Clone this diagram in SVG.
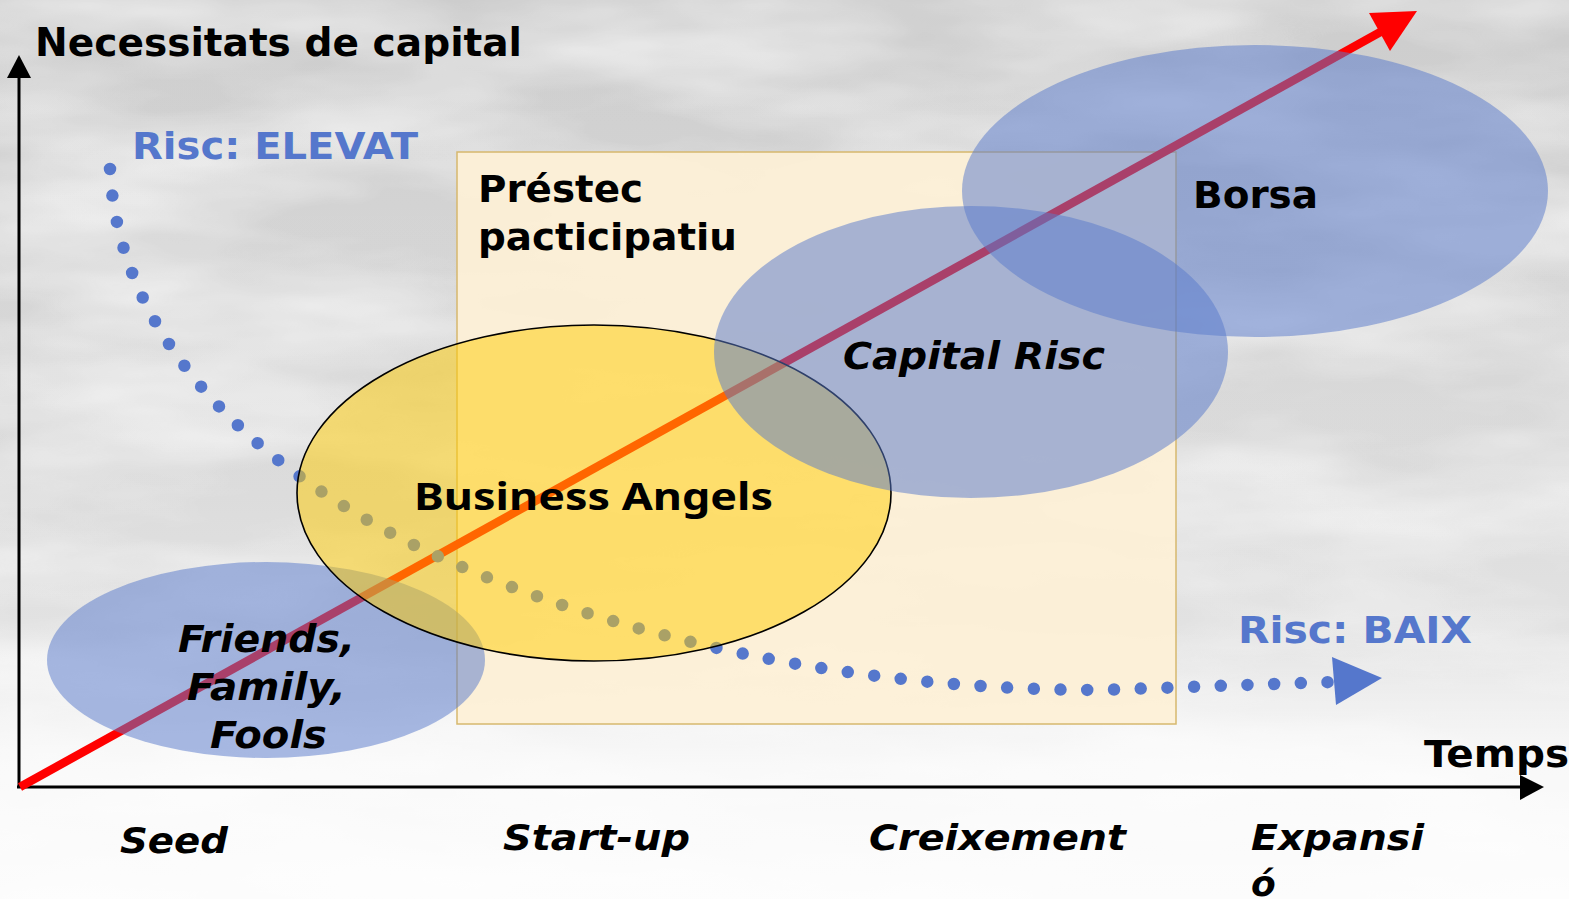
<svg xmlns="http://www.w3.org/2000/svg" width="1569" height="899" viewBox="0 0 1569 899">
  <defs>
    <linearGradient id="sky" x1="0" y1="0" x2="0" y2="1">
      <stop offset="0" stop-color="#cdcdcd"/>
      <stop offset="0.55" stop-color="#d9d9d9"/>
      <stop offset="1" stop-color="#ececec"/>
    </linearGradient>
    <linearGradient id="fade" x1="0" y1="0" x2="0" y2="1">
      <stop offset="0" stop-color="#ffffff" stop-opacity="0"/>
      <stop offset="0.7" stop-color="#ffffff" stop-opacity="0.1"/>
      <stop offset="0.85" stop-color="#ffffff" stop-opacity="0.75"/>
      <stop offset="1" stop-color="#ffffff" stop-opacity="0.85"/>
    </linearGradient>
    <filter id="clouds" x="0" y="0" width="100%" height="100%" filterUnits="userSpaceOnUse">
      <feTurbulence type="fractalNoise" baseFrequency="0.003 0.011" numOctaves="4" seed="7"/>
      <feColorMatrix type="matrix" values="0 0 0 0 1  0 0 0 0 1  0 0 0 0 1  1.6 0 0 0 -0.55"/>
    </filter>
    <style>
      .lbl { font-family: "DejaVu Sans", Verdana, sans-serif; font-weight: bold; fill: #000; }
      .it { font-style: italic; }
      .risc { fill: #5577cc; }
      .blue { fill: #5b7bcc; fill-opacity: 0.52; }
      .axis { stroke: #000; stroke-width: 3; fill: none; }
    </style>
  </defs>

  <!-- background sky -->
  <rect x="0" y="0" width="1569" height="899" fill="url(#sky)"/>
  <rect x="0" y="0" width="1569" height="899" filter="url(#clouds)" opacity="0.8"/>
  <rect x="0" y="0" width="1569" height="899" fill="url(#fade)"/>

  <!-- Préstec participatiu -->
  <g id="prestec">
    <rect x="457" y="152" width="719" height="572" fill="#fdf0d6" fill-opacity="0.93" stroke="#d6b86e" stroke-width="1.5"/>
    <text class="lbl" x="478" y="202" font-size="38" textLength="165" lengthAdjust="spacingAndGlyphs">Préstec</text>
    <text class="lbl" x="478" y="250" font-size="38" textLength="259" lengthAdjust="spacingAndGlyphs">pacticipatiu</text>
  </g>

  <!-- connectors -->
  <g id="connectors">
    <line x1="19" y1="788" x2="19" y2="76" class="axis"/>
    <polygon points="7,78 31,78 19,55" fill="#000"/>
    <line x1="17" y1="787" x2="1522" y2="787" class="axis"/>
    <polygon points="1520,775 1544,787 1520,800" fill="#000"/>
    <line x1="20" y1="787" x2="1384" y2="30" stroke="#ff0000" stroke-width="8.5"/>
    <polygon points="1369,13 1417,11 1390,51" fill="#ff0000"/>
    <path d="M110,169 C118,330 240,460 420,548 C560,615 800,690 1100,690 L1332,682" fill="none" stroke="#5577cc" stroke-width="12.5" stroke-linecap="round" stroke-dasharray="0 26.7"/>
    <polygon points="1332,657 1382,678 1336,705" fill="#5577cc"/>
  </g>

  <g id="friends">
    <ellipse cx="266" cy="660" rx="219" ry="98" class="blue"/>
  </g>

  <g id="business-angels">
    <ellipse cx="594" cy="493" rx="297" ry="168" fill="#ffcc00" fill-opacity="0.5" stroke="#000" stroke-width="1.6"/>
  </g>

  <g id="capital-risc">
    <ellipse cx="971" cy="352" rx="257" ry="146" class="blue"/>
  </g>

  <g id="borsa">
    <ellipse cx="1255" cy="191" rx="293" ry="146" class="blue"/>
  </g>

  <!-- labels on top -->
  <g id="friends-label">
    <text class="lbl it" x="178" y="652" font-size="37" textLength="177" lengthAdjust="spacingAndGlyphs">Friends,</text>
    <text class="lbl it" x="187" y="700" font-size="37" textLength="159" lengthAdjust="spacingAndGlyphs">Family,</text>
    <text class="lbl it" x="210" y="748" font-size="37" textLength="117" lengthAdjust="spacingAndGlyphs">Fools</text>
  </g>
  <g id="business-angels-label">
    <text x="414" y="510" font-family="'Noto Sans', 'DejaVu Sans', sans-serif" font-weight="bold" font-size="38" textLength="359" lengthAdjust="spacingAndGlyphs">Business Angels</text>
  </g>
  <g id="capital-risc-label">
    <text class="lbl it" x="843" y="369" font-size="37" textLength="262" lengthAdjust="spacingAndGlyphs">Capital Risc</text>
  </g>
  <g id="borsa-label">
    <text class="lbl" x="1193" y="208" font-size="38" textLength="125" lengthAdjust="spacingAndGlyphs">Borsa</text>
  </g>

  <g id="y-axis-label">
    <text class="lbl" x="35" y="56" font-size="39" textLength="487" lengthAdjust="spacingAndGlyphs">Necessitats de capital</text>
  </g>
  <g id="x-axis-label">
    <text class="lbl" x="1424" y="767" font-size="37" textLength="145" lengthAdjust="spacingAndGlyphs">Temps</text>
  </g>
  <g id="risc-elevat">
    <text class="lbl risc" x="132" y="159" font-size="38" textLength="286" lengthAdjust="spacingAndGlyphs">Risc: ELEVAT</text>
  </g>
  <g id="risc-baix">
    <text class="lbl risc" x="1238" y="643" font-size="38" textLength="234" lengthAdjust="spacingAndGlyphs">Risc: BAIX</text>
  </g>

  <g id="stages">
    <text class="lbl it" x="120" y="853" font-size="36" textLength="108" lengthAdjust="spacingAndGlyphs">Seed</text>
    <text class="lbl it" x="503" y="850" font-size="36" textLength="187" lengthAdjust="spacingAndGlyphs">Start-up</text>
    <text class="lbl it" x="869" y="850" font-size="36" textLength="257" lengthAdjust="spacingAndGlyphs">Creixement</text>
    <text class="lbl it" x="1251" y="850" font-size="36" textLength="173" lengthAdjust="spacingAndGlyphs">Expansi</text>
    <text class="lbl it" x="1251" y="896" font-size="36">ó</text>
  </g>
</svg>
